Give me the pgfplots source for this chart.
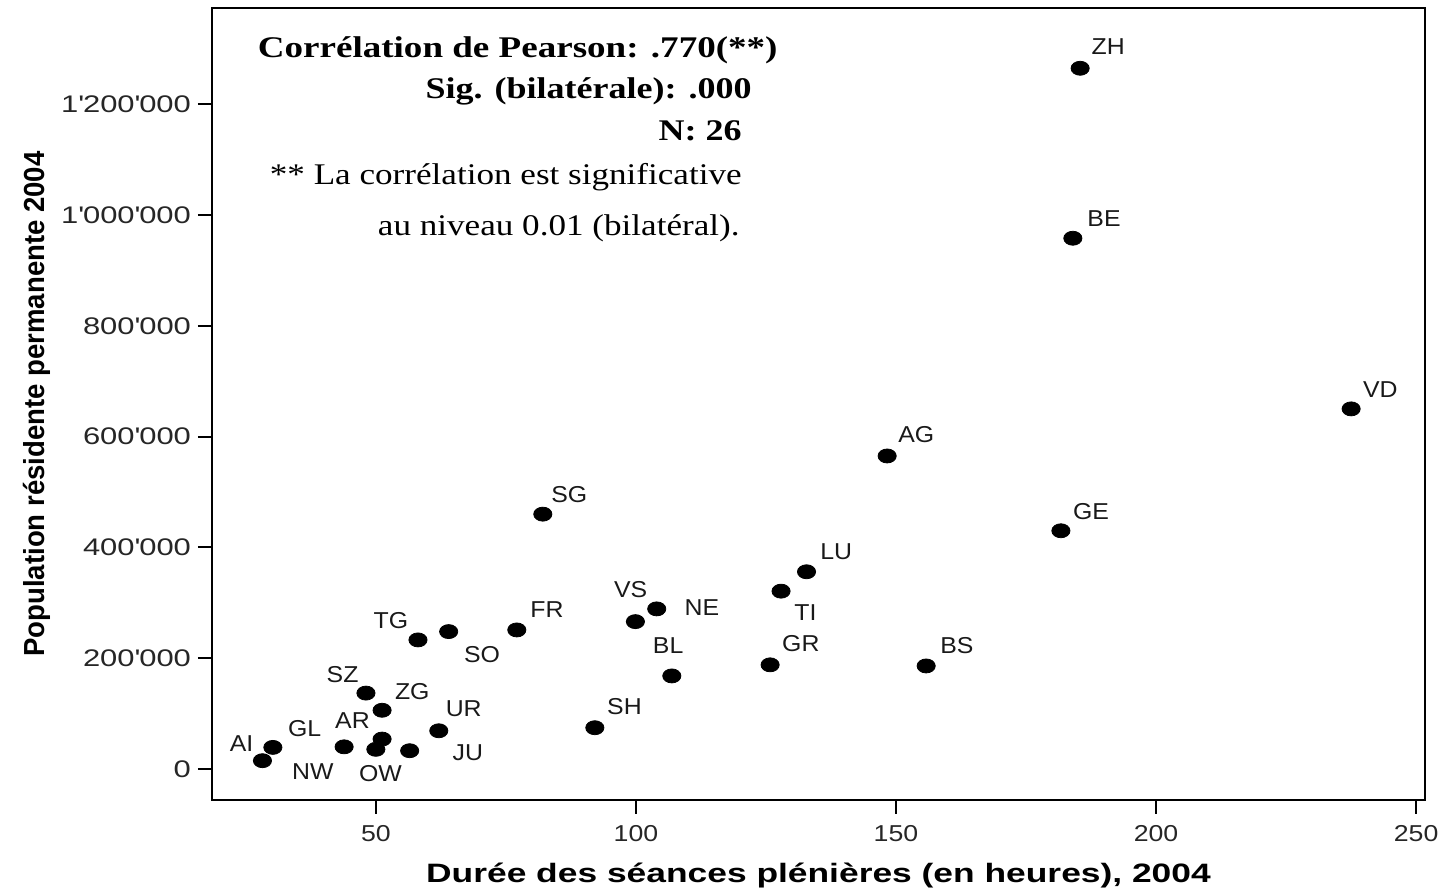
\documentclass[border=0pt]{standalone}
\usepackage{fontspec}
\usepackage{pgfplots}
\usepackage{pgfplotstable}
\pgfplotsset{compat=1.18}
\setmainfont{Liberation Sans}
\newfontfamily\ptfont[FakeStretch=1.08]{Liberation Sans}
\newfontfamily\ytickfont[FakeStretch=1.29]{Liberation Sans}
\newfontfamily\xtickfont[FakeStretch=1.16]{Liberation Sans}
\newfontfamily\xtitlefont[FakeStretch=1.33]{Liberation Sans}
\newfontfamily\ytitlefont[FakeStretch=0.95]{Liberation Sans}
\newfontfamily\notefonta[FakeStretch=1.235]{Liberation Serif}
\newfontfamily\notefontb[FakeStretch=1.2]{Liberation Serif}
\newfontfamily\notefont[FakeStretch=1.17]{Liberation Serif}

\pgfplotstableread{
x y
185.4 1264800
184.0 958000
237.5 650000
148.3 565000
82.1 460000
181.7 430000
132.8 356000
127.9 321000
104.0 289000
99.9 266000
77.1 251000
64.0 248000
58.1 233000
106.9 168000
125.8 188000
155.8 186000
48.1 137000
51.2 106000
92.1 74500
62.1 69000
51.2 54000
50.0 35500
56.5 33000
30.2 39000
43.9 40000
28.2 15000
}\cantons

\begin{document}
\begin{tikzpicture}
\begin{axis}[
  scale only axis,
  width=606.5pt, height=396pt,
  xmin=18.5, xmax=251.7,
  ymin=-55955, ymax=1373600,
  clip=false,
  axis line style={line width=1.2pt},
  tick style={line width=1pt, black},
  tick align=outside,
  major tick length=7pt,
  xtick pos=bottom, ytick pos=left,
  xtick={50,100,150,200,250},
  xticklabels={50,100,150,200,250},
  ytick={0,200000,400000,600000,800000,1000000,1200000},
  yticklabels={0,200\textquotesingle000,400\textquotesingle000,600\textquotesingle000,800\textquotesingle000,1\textquotesingle000\textquotesingle000,1\textquotesingle200\textquotesingle000},
  scaled y ticks=false, scaled x ticks=false,
  xticklabel style={font=\xtickfont\fontsize{11.5}{13}\selectfont, color=black!85, yshift=-2pt},
  yticklabel style={font=\ytickfont\fontsize{12}{14}\selectfont, color=black!85, xshift=0pt},
  xlabel={Durée des séances plénières (en heures), 2004},
  ylabel={Population résidente permanente 2004},
  xlabel style={font=\xtitlefont\bfseries\fontsize{13.3}{15}\selectfont, at={([yshift=-41.5pt]axis description cs:0.5,0)}, anchor=base},
  ylabel style={font=\ytitlefont\bfseries\fontsize{14.5}{16}\selectfont, at={([xshift=-83.5pt]axis description cs:0,0.5)}, anchor=base, rotate=0},
]
\addplot[only marks, mark=*, mark size=3.5pt, mark options={xscale=1.3, fill=black, draw=black}] table[x=x, y=y] {\cantons};

\begin{scope}[every node/.style={font=\ptfont\fontsize{11.5}{13}\selectfont, inner sep=0pt, anchor=center, color=black!90}]
\node at (axis cs:190.8,1303750) {ZH};
\node at (axis cs:190.0,992750) {BE};
\node at (axis cs:243.1,684100) {VD};
\node at (axis cs:153.9,602900) {AG};
\node at (axis cs:87.2,495800) {SG};
\node at (axis cs:187.5,463900) {GE};
\node at (axis cs:138.5,391700) {LU};
\node at (axis cs:132.6,281600) {TI};
\node at (axis cs:112.7,290600) {NE};
\node at (axis cs:99.0,323100) {VS};
\node at (axis cs:82.9,287000) {FR};
\node at (axis cs:52.9,267100) {TG};
\node at (axis cs:70.4,206300) {SO};
\node at (axis cs:106.2,222000) {BL};
\node at (axis cs:131.7,225600) {GR};
\node at (axis cs:161.7,223300) {BS};
\node at (axis cs:43.6,169700) {SZ};
\node at (axis cs:57.0,140200) {ZG};
\node at (axis cs:97.8,112500) {SH};
\node at (axis cs:66.9,108300) {UR};
\node at (axis cs:45.5,86600) {AR};
\node at (axis cs:36.3,73500) {GL};
\node at (axis cs:24.2,46400) {AI};
\node at (axis cs:67.7,28900) {JU};
\node at (axis cs:37.9,-4200) {NW};
\node at (axis cs:50.9,-7800) {OW};
\end{scope}

\begin{scope}[every node/.style={inner sep=0pt, anchor=base east}]
\node[font=\notefonta\bfseries\fontsize{15}{18}\selectfont] at (axis cs:127.3,1283400) {Corrélation de Pearson: .770(**)};
\node[font=\notefontb\bfseries\fontsize{15}{18}\selectfont] at (axis cs:122.3,1210250) {Sig. (bilatérale): .000};
\node[font=\notefontb\bfseries\fontsize{15}{18}\selectfont] at (axis cs:120.4,1134400) {N: 26};
\node[font=\notefont\fontsize{15}{18}\selectfont] at (axis cs:120.4,1055900) {** La corrélation est significative};
\node[font=\notefont\fontsize{15}{18}\selectfont] at (axis cs:120.0,963000) {au niveau 0.01 (bilatéral).};
\end{scope}
\end{axis}
\pgfresetboundingbox
\path[use as bounding box] ([shift={(-106pt,-44.5pt)}]current axis.south west) rectangle ([shift={(8.5pt,4pt)}]current axis.north east);
\end{tikzpicture}
\end{document}
